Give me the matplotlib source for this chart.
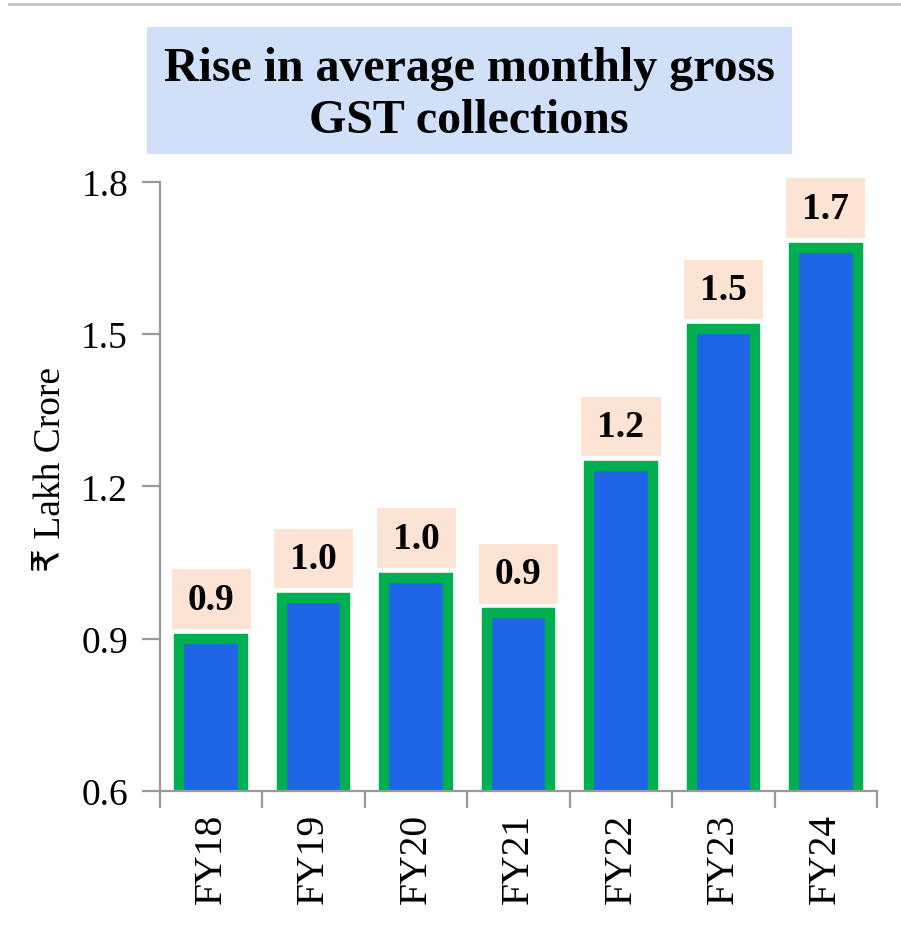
import numpy as np
import matplotlib
matplotlib.use("Agg")
import matplotlib.pyplot as plt
from matplotlib.patches import Rectangle
from matplotlib.lines import Line2D
from matplotlib.path import Path

# data
years = ["FY18", "FY19", "FY20", "FY21", "FY22", "FY23", "FY24"]
gst_avg = [0.90, 0.98, 1.02, 0.95, 1.24, 1.51, 1.67]
y_ticks = [0.6, 0.9, 1.2, 1.5, 1.8]

plt.rcParams['font.family'] = ['Liberation Serif', 'DejaVu Sans']


# label box: wider padding left/right than top/bottom
def label_box(x0, y0, width, height, mutation_size):
    px = 0.43 * mutation_size
    py = 0.33 * mutation_size
    x0, y0 = x0 - px, y0 - py
    x1, y1 = x0 + width + 2 * px, y0 + height + 2 * py
    return Path([(x0, y0), (x1, y0), (x1, y1), (x0, y1), (x0, y0)], closed=True)


W, H = 901, 929
fig = plt.figure(figsize=(W / 100, H / 100), dpi=100)

# thin gray rule at the very top
fig.add_artist(Line2D([9 / W, 1.0], [1 - 5 / H, 1 - 5 / H], color='#c8c8c8', lw=2.2))

# title box
fig.add_artist(Rectangle((147 / W, 1 - 155 / H), (792 - 147) / W, (155 - 28) / H,
                         transform=fig.transFigure, facecolor='#d0e0f8', edgecolor='none'))
fig.text(469 / W, 1 - 95 / H, "Rise in average monthly gross\nGST collections",
         ha='center', va='center', fontsize=34.5, fontweight='bold', linespacing=1.25)

ax = fig.add_axes([160 / W, 1 - 792 / H, (877 - 160) / W, (792 - 183) / H])
x = np.arange(len(years))

ax.bar(x, gst_avg, width=0.62, bottom=0, color='#1f66e6', edgecolor='#00b050',
       linewidth=7.5, zorder=2)

for xi, v in zip(x, gst_avg):
    ax.annotate(f"{v:.1f}", (xi, v), xytext=(0, 16), textcoords='offset points',
                ha='center', va='bottom', fontsize=27, fontweight='bold',
                bbox=dict(boxstyle=label_box, facecolor='#fde3d4', edgecolor='none'),
                zorder=3)

ax.set_xlim(-0.5, len(years) - 0.5)
ax.set_ylim(0.6, 1.8)
ax.set_yticks(y_ticks)
ax.set_yticklabels([f"{t:.1f}" for t in y_ticks])

# tick marks between categories, labels at centres
ax.set_xticks(np.arange(len(years) + 1) - 0.5)
ax.set_xticklabels([])
ax.set_xticks(x, minor=True)
ax.set_xticklabels(years, minor=True, rotation=90)
ax.tick_params(axis='x', which='major', length=12, width=1.6, color='#999999')
ax.tick_params(axis='x', which='minor', length=0, pad=16, labelsize=28.5)
ax.tick_params(axis='y', length=13, width=1.6, color='#999999', pad=10, labelsize=27)

for side in ['top', 'right']:
    ax.spines[side].set_visible(False)
for side in ['left', 'bottom']:
    ax.spines[side].set_color('#999999')
    ax.spines[side].set_linewidth(1.6)

ax.set_ylabel("₹ Lakh Crore", fontsize=27)
ax.yaxis.set_label_coords(-0.128, 0.53)

fig.savefig("out.png", dpi=100)
